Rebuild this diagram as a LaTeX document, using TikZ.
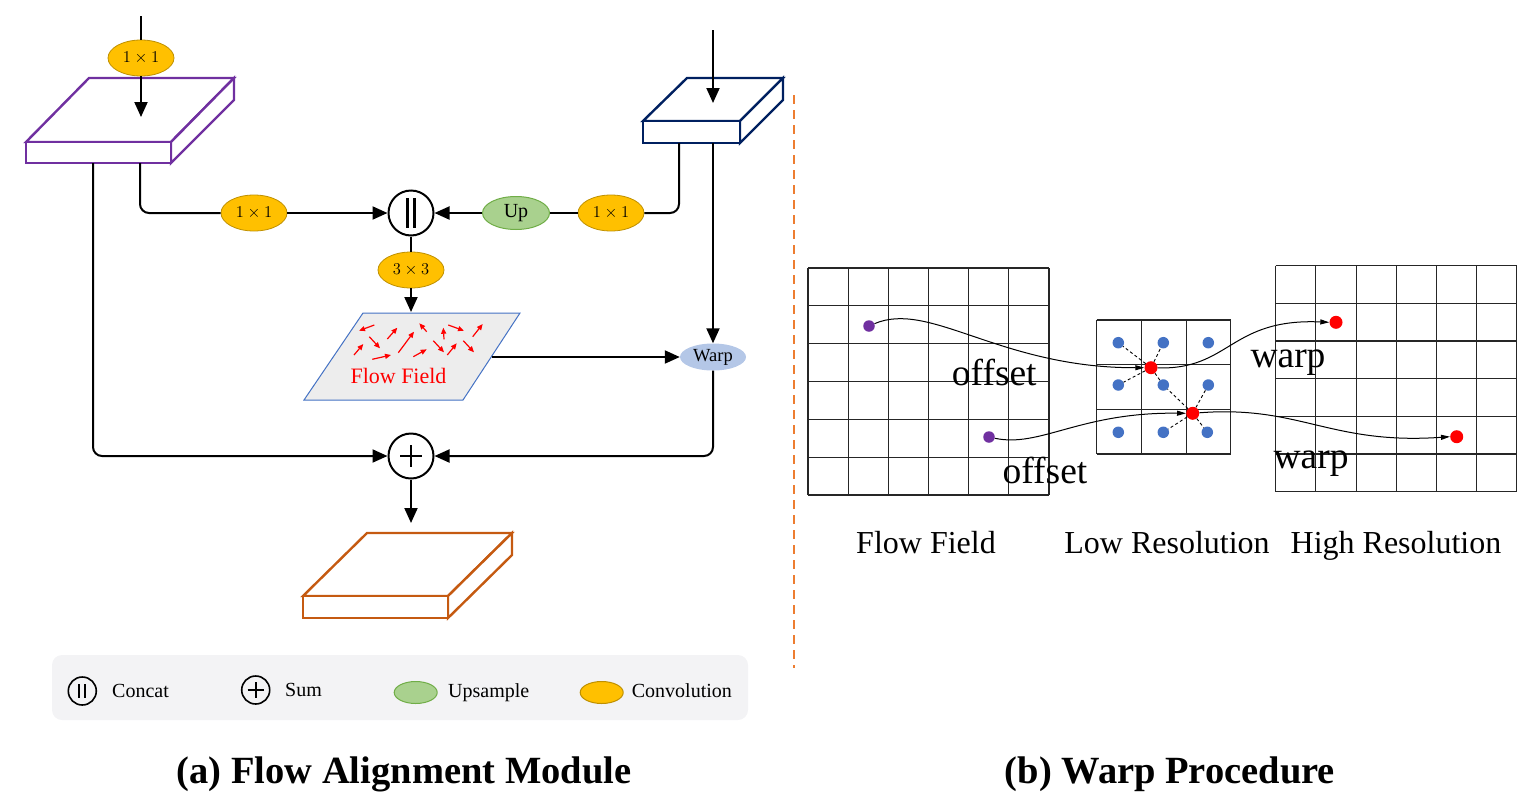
\RequirePackage{fix-cm}
\documentclass[tikz,border=0pt]{standalone}
\usepackage{fontspec}
\setmainfont{Liberation Serif}
\usetikzlibrary{arrows.meta,shapes.geometric,calc}
\definecolor{convfill}{HTML}{FFC000}
\definecolor{convdraw}{HTML}{BF9000}
\definecolor{upfill}{HTML}{A9D18E}
\definecolor{updraw}{HTML}{70AD47}
\definecolor{warpfill}{HTML}{B4C7E7}
\definecolor{purplebox}{HTML}{7030A0}
\definecolor{navybox}{HTML}{002060}
\definecolor{orangebox}{HTML}{C55A11}
\definecolor{dashorange}{HTML}{ED7D31}
\definecolor{ffill}{HTML}{EDEDED}
\definecolor{fdraw}{HTML}{4472C4}
\definecolor{legbg}{HTML}{F3F3F5}
\definecolor{bluedot}{HTML}{4472C4}
\definecolor{purpledot}{HTML}{7030A0}
\tikzset{
  conv/.style={ellipse, fill=convfill, draw=convdraw, line width=0.8pt, minimum width=66pt, minimum height=36pt, inner sep=0pt, font=\fontsize{16.5}{16.5}\selectfont},
  upsm/.style={ellipse, fill=upfill, draw=updraw, line width=1pt, minimum width=67pt, minimum height=33pt, inner sep=0pt, font=\fontsize{20}{20}\selectfont},
  warpn/.style={ellipse, fill=warpfill, draw=none, minimum width=66pt, minimum height=27pt, inner sep=0pt, font=\fontsize{18.5}{18.5}\selectfont},
  wire/.style={line width=2pt, rounded corners=9pt},
  arr/.style={wire, -{Triangle[length=15pt,width=13pt]}},
  opc/.style={circle, draw, line width=2pt, minimum size=45pt, inner sep=0pt},
  slab/.style={line width=2.4pt, fill=white, line join=miter},
  farrow/.style={red, line width=1.2pt, -{Triangle[length=6pt,width=5pt]}},
  gridl/.style={line width=1.1pt, black!85},
  dotn/.style={circle, inner sep=0pt, minimum size=11.5pt},
  reddot/.style={dotn, fill=red, minimum size=13pt},
  curv/.style={line width=1pt, -{Triangle[length=9pt,width=5pt]}},
  dsh/.style={line width=0.9pt, dash pattern=on 3pt off 2.5pt},
  bigl/.style={font=\fontsize{37.5}{37.5}\selectfont, inner sep=0pt, anchor=base},
  subl/.style={font=\fontsize{32}{32}\selectfont, inner sep=0pt, anchor=base},
  titl/.style={font=\fontsize{38.5}{38.5}\selectfont\bfseries, inner sep=0pt, anchor=base},
  legt/.style={font=\fontsize{20}{20}\selectfont, inner sep=0pt, anchor=base west},
  lege/.style={ellipse, line width=1pt, minimum width=43pt, minimum height=22pt, inner sep=0pt},
  legc/.style={circle, draw, line width=1.6pt, minimum size=28pt, inner sep=0pt},
}
\begin{document}
\begin{tikzpicture}[x=1pt,y=-1pt]
\useasboundingbox (0,0) rectangle (1522,809);

% ---------- (a) Flow Alignment Module ----------
% purple slab
\draw[slab, draw=purplebox] (26,142) -- (89,78) -- (234,78) -- (171,142) -- cycle;
\draw[slab, draw=purplebox] (171,142) -- (234,78) -- (234,100) -- (171,163) -- cycle;
\draw[slab, draw=purplebox] (26,142) rectangle (171,163);
% navy slab
\draw[slab, draw=navybox] (643,121) -- (687,78) -- (783,78) -- (740,121) -- cycle;
\draw[slab, draw=navybox] (740,121) -- (783,78) -- (783,100) -- (740,143) -- cycle;
\draw[slab, draw=navybox] (643,121) rectangle (740,143);
% orange slab
\draw[slab, draw=orangebox] (303,596) -- (367,533) -- (512,533) -- (448,596) -- cycle;
\draw[slab, draw=orangebox] (448,596) -- (512,533) -- (512,555) -- (448,618) -- cycle;
\draw[slab, draw=orangebox] (303,596) rectangle (448,618);

% coordinates for free ends
\coordinate (inA) at (141,16);
\coordinate (pTop) at (141,117);
\coordinate (inB) at (713,30);
\coordinate (nTop) at (713,103);
\coordinate (pb1) at (140,163);
\coordinate (pb2) at (93,163);
\coordinate (nb1) at (679,143);
\coordinate (nb2) at (713,143);
\coordinate (ffTop) at (411,312);
\coordinate (ffR) at (492,357);
\coordinate (oTop) at (411,523);

% nodes
\node[conv] (c0) at (141,58) {$1\times1$};
\node[conv] (c1) at (254,213) {$1\times1$};
\node[conv] (c2) at (611,213) {$1\times1$};
\node[upsm] (up) at (516,213) {Up};
\node[conv] (c3) at (411,270) {$3\times3$};
\node[opc] (cat) at (411,213) {};
\node[opc] (sum) at (411,456) {};
\node[warpn] (warp) at (713,357) {Warp};
\draw[line width=2.4pt] ($(cat)+(-3.6,-15)$) -- ($(cat)+(-3.6,15)$);
\draw[line width=2.4pt] ($(cat)+(3.6,-15)$) -- ($(cat)+(3.6,15)$);
\draw[line width=2.4pt] ($(sum)+(-11,0)$) -- ($(sum)+(11,0)$);
\draw[line width=2.4pt] ($(sum)+(0,-11)$) -- ($(sum)+(0,11)$);

% flow field
\draw[fdraw, fill=ffill, line width=1pt] (363,313) -- (520,313) -- (463,400) -- (304,400) -- cycle;
\foreach \a/\b/\c/\d in {374.3/325/359/330.7, 369.3/336.7/380/348.3, 354/355/363.3/344, 387.3/339/397.3/327.7, 372.3/359.3/391/355, 398.3/352.7/414/331.7, 426.7/331.7/419.3/323.3, 413.3/356.7/426.7/349.3, 433.3/340.7/444/352.3, 444/339.3/443.3/327.7, 448.3/325/464/330.7, 447.3/355/456.7/343.3, 463.3/340.7/474/352.3, 472.7/336.7/482.7/324}
  \draw[farrow] (\a,\b) -- (\c,\d);
\node[font=\fontsize{22}{22}\selectfont, text=red, inner sep=0pt, anchor=base] (fft) at (398.5,383.3) {Flow Field};

% connectors
\draw[wire] (inA) -- (c0.north);
\draw[arr] (c0.south) -- (pTop);
\draw[arr] (inB) -- (nTop);
\draw[wire] (pb1) |- (c1.west);
\draw[arr] (c1.east) -- (cat.west);
\draw[wire] (nb1) |- (c2.east);
\draw[wire] (c2.west) -- (up.east);
\draw[arr] (up.west) -- (cat.east);
\draw[wire] (cat.south) -- (c3.north);
\draw[arr] (c3.south) -- (ffTop);
\draw[arr] (nb2) -- (warp.north);
\draw[arr] (ffR) -- (warp.west);
\draw[arr] (pb2) |- (sum.west);
\draw[arr] (warp.south) |- (sum.east);
\draw[arr] (sum.south) -- (oTop);

% legend
\fill[legbg, rounded corners=10pt] (52,655) rectangle (748,720);
\node[legc] (lcat) at (82.3,691) {};
\draw[line width=1.8pt] ($(lcat)+(-3,-7)$) -- ($(lcat)+(-3,7)$);
\draw[line width=1.8pt] ($(lcat)+(3,-7)$) -- ($(lcat)+(3,7)$);
\node[legt] (tcat) at (112,697) {Concat};
\node[legc] (lsum) at (255.7,690) {};
\draw[line width=1.8pt] ($(lsum)+(-8,0)$) -- ($(lsum)+(8,0)$);
\draw[line width=1.8pt] ($(lsum)+(0,-8)$) -- ($(lsum)+(0,8)$);
\node[legt] (tsum) at (285,696) {Sum};
\node[lege, fill=upfill, draw=updraw] (lup) at (415.7,692.5) {};
\node[legt] (tup) at (448,697) {Upsample};
\node[lege, fill=convfill, draw=convdraw] (lconv) at (601.7,692.5) {};
\node[legt] (tconv) at (631.7,697) {Convolution};

% separator
\draw[dashorange, line width=2pt, dash pattern=on 9pt off 6pt] (794,95) -- (794,668);

% titles
\node[titl] (ta) at (404,783) {(a) Flow Alignment Module};
\node[titl] (tb) at (1170,783) {(b) Warp Procedure};

% ---------- (b) Warp Procedure ----------
\foreach \i in {0,...,6} {
  \draw[gridl] ({808+\i*40.1667},268) -- ({808+\i*40.1667},495);
  \draw[gridl] (808,{268+\i*37.8333}) -- (1049,{268+\i*37.8333});
  \draw[gridl] ({1275.7+\i*40.1667},265.7) -- ({1275.7+\i*40.1667},491.7);
  \draw[gridl] (1275.7,{265.7+\i*37.6667}) -- (1516.7,{265.7+\i*37.6667});
}
\foreach \i in {0,...,3} {
  \draw[gridl] ({1096.7+\i*44.6667},320) -- ({1096.7+\i*44.6667},454);
  \draw[gridl] (1096.7,{320+\i*44.6667}) -- (1230.7,{320+\i*44.6667});
}

% dots
\node[dotn, fill=purpledot] (p1) at (869,326) {};
\node[dotn, fill=purpledot] (p2) at (989,437) {};
\node[dotn, fill=bluedot] (b11) at (1118.3,342.7) {};
\node[dotn, fill=bluedot] (b12) at (1163.3,342.7) {};
\node[dotn, fill=bluedot] (b13) at (1208.3,342.7) {};
\node[dotn, fill=bluedot] (b21) at (1118.3,385) {};
\node[dotn, fill=bluedot] (b22) at (1163.3,385) {};
\node[dotn, fill=bluedot] (b23) at (1208.3,385) {};
\node[dotn, fill=bluedot] (b31) at (1118.3,432.3) {};
\node[dotn, fill=bluedot] (b32) at (1163.3,432.3) {};
\node[dotn, fill=bluedot] (b33) at (1207.3,432.3) {};
\node[reddot] (r1) at (1151,367.7) {};
\node[reddot] (r2) at (1192.7,413.3) {};
\node[reddot] (h1) at (1336,322.3) {};
\node[reddot] (h2) at (1456.7,436.7) {};

% dashed interpolation lines
\foreach \b in {b11,b12,b21,b22} \draw[dsh] (r1) -- (\b);
\foreach \b in {b22,b23,b32,b33} \draw[dsh] (r2) -- (\b);

% curves
\draw[curv] (p1) .. controls (930,300) and (1000,368) .. (r1.west);
\draw[curv] (p2) .. controls (1040,448) and (1080,412) .. (r2.west);
\draw[curv] (r1) .. controls (1230,370) and (1230,318) .. (h1.west);
\draw[curv] (r2) .. controls (1300,405) and (1330,445) .. (h2.west);

% labels
\node[bigl] (o1) at (994.3,385) {offset};
\node[bigl] (o2) at (1045,483) {offset};
\node[bigl] (w1) at (1288,367) {warp};
\node[bigl] (w2) at (1311,468) {warp};
\node[subl] (s1) at (926,553) {Flow Field};
\node[subl] (s2) at (1167,553) {Low Resolution};
\node[subl] (s3) at (1396,553) {High Resolution};
\end{tikzpicture}
\end{document}
